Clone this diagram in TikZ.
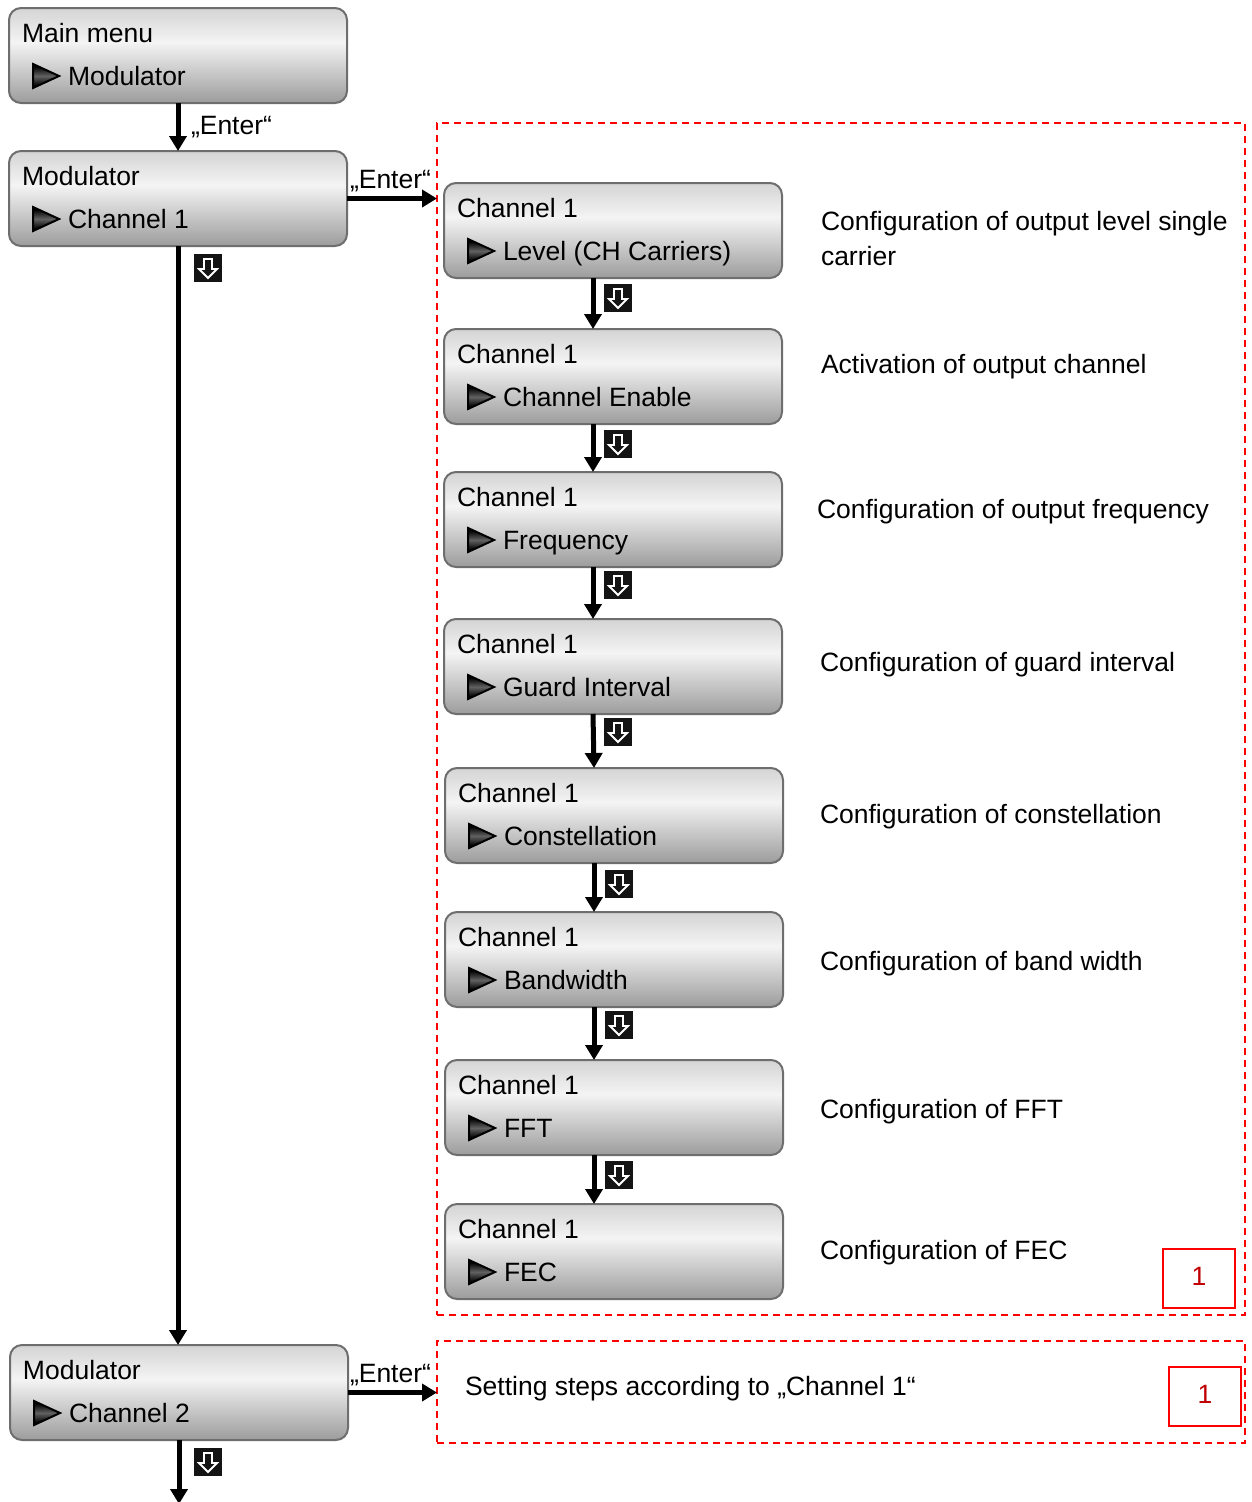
\documentclass[tikz,border=0pt]{standalone}
\usepackage{fontspec}
\setmainfont{Liberation Sans}
\usetikzlibrary{calc,arrows.meta}
\definecolor{mb}{HTML}{9C9C9C}
\definecolor{mm}{HTML}{F4F4F4}
\definecolor{mt}{HTML}{D4D4D4}
\definecolor{bord}{HTML}{6E6E6E}
\definecolor{rd}{HTML}{FF0000}
\definecolor{rdt}{HTML}{C00000}
\pgfdeclareverticalshading{mshade}{100bp}{color(0bp)=(mb); color(25bp)=(mb); color(57bp)=(mm); color(75bp)=(mt); color(100bp)=(mt)}
\pgfdeclareverticalshading{trishade}{100bp}{color(0bp)=(black); color(30bp)=(black); color(50bp)=(black!62); color(70bp)=(black); color(100bp)=(black)}
\tikzset{
  mbox/.style={rectangle, rounded corners=12pt, draw=bord, line width=2pt, shading=mshade,
    minimum width=338pt, minimum height=95pt, inner sep=0pt, outer sep=0pt, anchor=north west},
  txt/.style={anchor=base west, inner sep=0pt, outer sep=0pt, font=\fontsize{26.5}{32}\selectfont},
  tri/.style={draw=black, line width=2pt, line join=miter, shading=trishade},
  arr/.style={line width=5pt, -{Triangle[length=15pt,width=17pt]}},
  dbox/.style={rectangle, draw=rd, line width=1.8pt, dash pattern=on 7pt off 5pt,
    inner sep=0pt, outer sep=0pt, anchor=north west},
  rbox/.style={rectangle, draw=rd, line width=2.2pt, minimum width=72pt, minimum height=59pt,
    inner sep=0pt, anchor=north west, text=rdt, font=\fontsize{26.5}{32}\selectfont},
  dnicon/.pic={
    \fill[black!92] (-14,-14) rectangle (14,14);
    \draw[white, line width=1.8pt, line join=miter] (-4,-9)--(4,-9)--(4,1)--(9,1)--(0,10)--(-9,1)--(-4,1)--cycle;
  }
}
\newcommand\menubox[5]{%
  \node[mbox] (#1) at (#2,#3) {};
  \node[txt] (#1a) at ($(#1.north west)+(13,34.5)$) {#4};
  \path[tri] ($(#1.north west)+(24,56)$) -- ++(26,12) -- ++(-26,12) -- cycle;
  \node[txt] (#1b) at ($(#1.north west)+(59,77.5)$) {#5};
}
\begin{document}
\begin{tikzpicture}[x=1pt,y=-1pt]
\useasboundingbox (0,0) rectangle (1251,1502);
% dashed frames
\node[dbox, minimum width=808pt, minimum height=1192pt] (d1) at (437,123) {};
\node[dbox, minimum width=808pt, minimum height=102pt] (d2) at (437,1341) {};
% left column
\menubox{m0}{9}{8}{Main menu}{Modulator}
\menubox{m1}{9}{151}{Modulator}{Channel 1}
\menubox{m2}{10}{1345}{Modulator}{Channel 2}
% channel boxes
\menubox{c1}{444}{183}{Channel 1}{Level (CH Carriers)}
\menubox{c2}{444}{329}{Channel 1}{Channel Enable}
\menubox{c3}{444}{472}{Channel 1}{Frequency}
\menubox{c4}{444}{619}{Channel 1}{Guard Interval}
\menubox{c5}{445}{768}{Channel 1}{Constellation}
\menubox{c6}{445}{912}{Channel 1}{Bandwidth}
\menubox{c7}{445}{1060}{Channel 1}{FFT}
\menubox{c8}{445}{1204}{Channel 1}{FEC}
% left arrows
\draw[arr] (m0.south) -- (m1.north) node[txt, pos=0.5, anchor=west, xshift=13pt] (e0) {„Enter“};
\draw[arr] (m1.east) -- (m1.east -| d1.west);
\node[txt] (e1) at (350,188) {„Enter“};
\draw[arr] (m1.south) -- (m1.south |- m2.north);
\draw[arr] (m2.east) -- (m2.east -| d2.west);
\node[txt] (e2) at (350,1382) {„Enter“};
\coordinate (bot) at (179,1504);
\draw[arr] (m2.south) -- (bot);
\pic at (208,268) {dnicon};
\pic at (208,1462) {dnicon};
% channel arrows
\foreach \a/\b/\dy in {c1/c2/20,c2/c3/20,c3/c4/18,c4/c5/18,c5/c6/21,c6/c7/18,c7/c8/20}{
  \draw[arr] ($(\a.south)+(-20,0)$) -- ($(\b.north)+(-20,0)$);
  \pic at ($(\a.south)+(5,\dy)$) {dnicon};
}
% descriptions
\node[txt] (t1) at (821,230.5) {Configuration of output level single};
\node[txt] (t1b) at (821,265.5) {carrier};
\node[txt] (t2) at (821,373.5) {Activation of output channel};
\node[txt] (t3) at (817,518.5) {Configuration of output frequency};
\node[txt] (t4) at (820,671.5) {Configuration of guard interval};
\node[txt] (t5) at (820,823.5) {Configuration of constellation};
\node[txt] (t6) at (820,970.5) {Configuration of band width};
\node[txt] (t7) at (820,1118.5) {Configuration of FFT};
\node[txt] (t8) at (820,1259.5) {Configuration of FEC};
\node[txt] (t9) at (465,1395.5) {Setting steps according to „Channel 1“};
% red number boxes
\node[rbox, text depth=4pt] (r1) at (1162,1248) {1};
\node[rbox, text depth=4pt] (r2) at (1168,1366) {1};
\end{tikzpicture}
\end{document}
